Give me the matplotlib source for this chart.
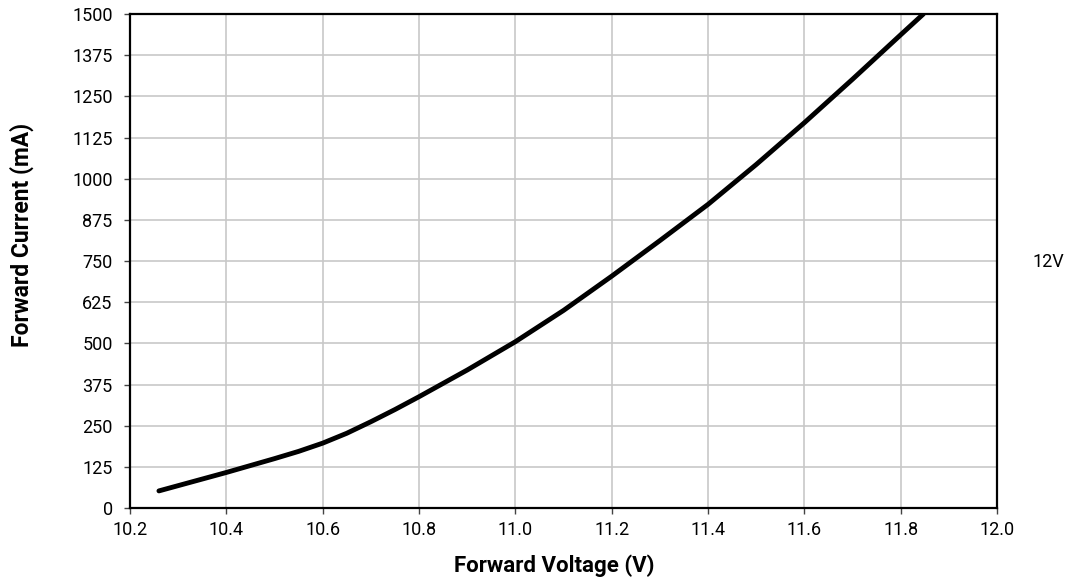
import numpy as np
import matplotlib.pyplot as plt

plt.rcParams['font.family'] = ['Roboto', 'DejaVu Sans']

# Forward voltage (V) vs forward current (mA)
voltage = [10.26, 10.33, 10.40, 10.50, 10.55, 10.60, 10.65, 10.70, 10.75, 10.80,
           10.90, 11.00, 11.10, 11.20, 11.30, 11.40, 11.50, 11.60, 11.70,
           11.80, 11.847]
current = [52, 80, 108, 150, 172, 197, 227, 262, 299, 338,
           419, 505, 600, 704, 812, 922, 1043, 1170, 1302,
           1437, 1500]
series_label = '12V'

x_ticks = [10.2, 10.4, 10.6, 10.8, 11.0, 11.2, 11.4, 11.6, 11.8, 12.0]
y_ticks = [0, 125, 250, 375, 500, 625, 750, 875, 1000, 1125, 1250, 1375, 1500]

fig = plt.figure(figsize=(10.65, 5.84), dpi=100)
ax = fig.add_axes([0.1221, 0.1301, 0.8141, 0.8459])

ax.plot(voltage, current, color='black', linewidth=3.5,
        solid_capstyle='round', solid_joinstyle='round', zorder=3)

ax.set_xlim(10.2, 12.0)
ax.set_ylim(0, 1500)
ax.set_xticks(x_ticks)
ax.set_xticklabels([f"{v:.1f}" for v in x_ticks])
ax.set_yticks(y_ticks)
ax.tick_params(labelsize=13, length=4.5, width=1, color='#444444')
ax.tick_params(axis='y', pad=8)
ax.tick_params(axis='x', pad=5)

ax.grid(True, color='#c8c8c8', linewidth=1.2)
ax.set_axisbelow(True)
for sp in ax.spines.values():
    sp.set_linewidth(1.6)
    sp.set_color('black')

ax.set_xlabel('Forward Voltage (V)', fontsize=16, fontweight='bold')
ax.set_ylabel('Forward Current (mA)', fontsize=16.5, fontweight='bold')
ax.xaxis.set_label_coords((554 - 130) / 867, (508 - 566) / 494)
ax.xaxis.label.set_va('center')
ax.yaxis.set_label_coords((22 - 130) / 867, (508 - 235) / 494)
ax.yaxis.label.set_va('center')

# series name shown to the right of the plot
fig.text(1048 / 1065, 1 - 262 / 584, series_label, fontsize=13,
         ha='center', va='center')

fig.savefig('out.png', dpi=100)
